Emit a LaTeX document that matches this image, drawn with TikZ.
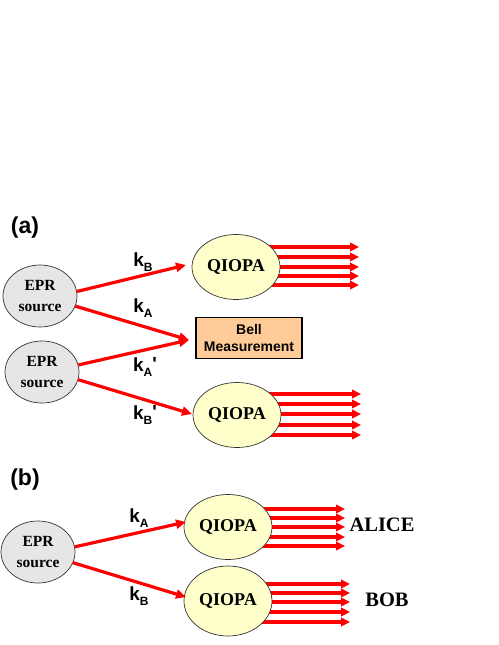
\documentclass[tikz,border=0pt]{standalone}
\usepackage{fontspec}
\setmainfont{Liberation Serif}
\newfontfamily\arialf{Liberation Sans}
\usetikzlibrary{arrows.meta,backgrounds,shapes.geometric}
\definecolor{eprgray}{HTML}{E6E6E6}
\definecolor{qyellow}{HTML}{FFFFCC}
\definecolor{bellpeach}{HTML}{FFCC99}
\definecolor{beamred}{HTML}{FF0000}
\newcommand{\kk}[2]{{\arialf\bfseries\fontsize{19}{19}\selectfont k\raisebox{-0.26em}{\fontsize{12}{12}\selectfont #1}\raisebox{0.05em}{#2}}}
\begin{document}
\begin{tikzpicture}[x=1pt,y=-1pt,
  epr/.style={ellipse,draw=black!80,line width=0.7pt,fill=eprgray,minimum width=74pt,minimum height=62pt,inner sep=0pt,align=center,font=\bfseries\fontsize{15.5}{20.5}\selectfont},
  qiopa/.style={ellipse,draw=black!80,line width=0.7pt,fill=qyellow,minimum width=88pt,minimum height=65pt,inner sep=0pt,font=\bfseries\fontsize{18}{18}\selectfont},
  bellbox/.style={rectangle,draw=black,line width=1.2pt,fill=bellpeach,minimum width=106pt,minimum height=41pt,inner sep=0pt,align=center,font=\arialf\bfseries\fontsize{14}{17.5}\selectfont},
  beam/.style={draw=beamred,line width=3.2pt,-{Triangle[length=10pt,width=9pt]}},
  outbeam/.style={draw=beamred,line width=3.4pt,-{Triangle[length=9pt,width=8.5pt]}},
  panel/.style={font=\arialf\bfseries\fontsize{23}{23}\selectfont},
  endname/.style={font=\bfseries\fontsize{20.5}{20}\selectfont},
  klabel/.style={inner sep=0pt}
]
\useasboundingbox (0,0) rectangle (498,645);

% ---------- panel (a)
\node[panel] (pa) at (25,228) {(a)};
\node[epr] (e1) at (40,296) {EPR\\source};
\node[epr] (e2) at (42,372) {EPR\\source};
\node[qiopa] (q1) at (236,267) {QIOPA};
\node[qiopa] (q2) at (237,415) {QIOPA};
\node[bellbox] (bell) at (249,338) {Bell\\Measurement};

\coordinate (t1) at (186,265);
\coordinate (tb) at (189,340);
\coordinate (t2) at (192,414);
\draw[beam] (e1.7) -- (t1);
\draw[beam] (e1.-16) -- (tb);
\draw[beam] (e2.11) -- (tb);
\draw[beam] (e2.-12) -- (t2);

\node[klabel] (kb) at (143,262) {\kk{B}{}};
\node[klabel] (ka) at (143,308) {\kk{A}{}};
\node[klabel] (kap) at (145,367) {\kk{A}{\textquotesingle}};
\node[klabel] (kbp) at (145,415) {\kk{B}{\textquotesingle}};

\begin{scope}[on background layer]
  \foreach \dy in {-18,-9,0,10,20} {
    \draw[outbeam] ([yshift=\dy]q1.center) -- ++(123,0);
  }
  \foreach \dy in {-20,-10,1,11,21} {
    \draw[outbeam] ([yshift=\dy]q2.center) -- ++(124,0);
  }
\end{scope}

% ---------- panel (b)
\node[panel] (pb) at (25,480) {(b)};
\node[epr] (e3) at (38,552) {EPR\\source};
\node[qiopa] (q3) at (228,527) {QIOPA};
\node[qiopa,minimum height=70pt] (q4) at (228,601) {QIOPA};

\coordinate (t3) at (186,522);
\coordinate (t4) at (186,597);
\draw[beam] (e3.8) -- (t3);
\draw[beam] (e3.-17) -- (t4);

\node[klabel] (ka3) at (139,518) {\kk{A}{}};
\node[klabel] (kb3) at (139,596) {\kk{B}{}};

\begin{scope}[on background layer]
  \foreach \dy in {-19,-10,0,9,18} {
    \draw[outbeam] ([yshift=\dy]q3.center) -- ++(117,0);
  }
  \foreach \dy in {-21,-11,-1,8,17} {
    \draw[outbeam] ([yshift=\dy]q4.center) -- ++(122,0);
  }
\end{scope}

\node[endname] (alice) at (382,525) {ALICE};
\node[endname] (bob) at (387,600) {BOB};
\end{tikzpicture}
\end{document}
